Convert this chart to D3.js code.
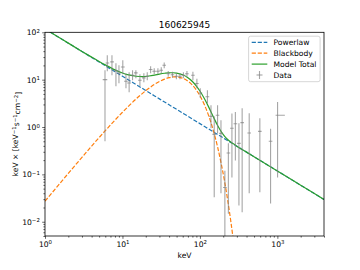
<!DOCTYPE html>
<html><head><meta charset="utf-8">
<script src="https://cdn.jsdelivr.net/npm/d3@7/dist/d3.min.js"></script>
<style>body{margin:0;background:#fff}svg{display:block}text{font-family:"DejaVu Sans",sans-serif;fill:#000}</style>
</head><body><svg id="c" width="360" height="270"></svg>
<script>
// ---------- data ----------
const chartTitle = "160625945";
const xLabel = "keV";
const seriesNames = ["Powerlaw", "Blackbody", "Model Total", "Data"];

// data points: energy, value, lower/upper y limits, lower/upper energy limits
const dataE    = [5.95,6.37,7.32,8.24,9.01,10.1,11.1,12.2,13.5,14.9,16.8,18.9,20.9,23.1,25.7,28.7,31.7,34.6,39.0,44.2,49.7,55.2,61.2,68.0,81.2,91.4,101,125,139,153,169,187,210,233,259,287,319,351,433,594,817,1006];
const dataV    = [10.0,22.5,23.7,15.3,13.7,18.5,9.25,8.51,12.4,13.9,9.71,10.9,11.8,16.4,15.1,15.1,15.8,20.1,13.3,12.7,11.8,11.8,12.4,13.3,12.4,8.27,5.23,4.35,1.68,0.70,1.77,0.735,0.053,0.282,0.94,1.17,0.452,1.24,0.747,0.81,0.50,1.77];
const dataLo   = [0.50,15.1,12.4,7.25,8.4,13.0,6.58,5.42,9.71,10.7,7.25,8.8,9.71,13.6,13.0,13.0,13.6,17.4,11.5,11.0,10.2,10.2,10.7,11.5,9.71,6.6,4.14,3.17,0.94,0.033,0.735,0.04,0.001,0.0148,0.086,0.197,0.022,0.0158,0.04,0.042,0.0244,0.086];
const dataHi   = [15.8,32.8,32.8,22.2,20.1,25.7,13.6,14.3,15.8,15.8,13.0,13.6,14.3,19.2,17.4,17.4,18.3,23.1,15.3,14.7,13.6,13.6,14.3,15.3,14.7,10.4,6.6,5.97,2.88,1.68,2.88,1.39,0.12,0.452,1.92,2.07,1.2,2.48,1.95,1.53,0.925,3.38];
const dataELo  = [5.56,6.05,6.95,7.8,8.55,9.55,10.5,11.5,12.8,14.1,15.9,17.9,19.8,21.9,24.3,27.2,30.0,32.8,37.0,41.9,47.1,52.3,58.0,64.4,77.0,86.6,95.7,118,132,145,160,177,199,221,245,272,302,333,410,563,774,948];
const dataEHi  = [6.37,6.75,7.75,8.7,9.5,10.7,11.7,12.9,14.3,15.7,17.7,19.9,22.0,24.4,27.1,30.3,33.4,36.5,41.1,46.6,52.4,58.2,64.6,71.7,85.7,96.4,107,132,147,161,178,197,222,246,273,303,336,370,457,626,862,1250];

// model curves
const modelE     = [1,1.5,2,3,4,5,6,8,10,12,15,18,22,26,30,35,40,45,50,60,70,80,90,100,115,130,150,170,190,210,230,250,270,290,300,400,600,1000,2000,4000];
const powerlaw   = [118,78.7,59,39.3,29.5,23.6,19.7,14.75,11.8,9.83,7.87,6.56,5.36,4.54,3.93,3.37,2.95,2.62,2.36,1.97,1.69,1.475,1.31,1.18,1.026,0.908,0.787,0.694,0.621,0.562,0.513,0.472,0.437,0.407,0.393,0.295,0.197,0.118,0.059,0.0295];
const blackbody  = [0.0271,0.060,0.105,0.229,0.396,0.600,0.837,1.397,2.05,2.76,3.91,5.08,6.59,7.97,9.15,10.28,11.03,11.40,11.43,10.70,9.31,7.66,6.03,4.58,2.88,1.72,0.814,0.366,0.157,0.0657,0.0265,0.0105,0.00409,0.00156,null,null,null,null,null,null];
const modelTotal = [118,78.8,59.1,39.5,29.9,24.2,20.5,16.1,13.85,12.6,11.8,11.64,11.95,12.5,13.1,13.65,13.98,14.0,13.8,12.67,11.0,9.14,7.34,5.76,3.9,2.63,1.60,1.06,0.778,0.628,0.540,0.483,0.441,0.409,0.393,0.295,0.197,0.118,0.059,0.0295];

const xMajor = [1,10,100,1000];
const yMajor = [0.01,0.1,1,10,100];
const colors = ["#1f77b4","#ff7f0e","#2ca02c","#808080"];

// ---------- drawing ----------
const svg = d3.select("#c");
const L=45, R=324, T=32.3, B=236;
const x = d3.scaleLog().domain([1,4000]).range([L,R]);
const y = d3.scaleLog().domain([0.005,100]).range([B,T]);

function minors(lo, hi){
  const out=[];
  for(let p=Math.floor(Math.log10(lo)); p<=Math.ceil(Math.log10(hi)); p++){
    for(let m=2;m<=9;m++){const v=m*Math.pow(10,p); if(v>=lo*0.9999 && v<=hi*1.0001) out.push(v);}
  }
  return out;
}
function supLabel(sel){
  sel.each(function(d){
    const t=d3.select(this); const e=Math.round(Math.log10(d));
    t.text(null);
    t.append("tspan").text("10");
    t.append("tspan").attr("dy","-0.45em").attr("font-size","5.4px").text(e<0?"\u2212"+(-e):String(e));
  });
}

svg.append("defs").append("clipPath").attr("id","clip")
  .append("rect").attr("x",L).attr("y",T).attr("width",R-L).attr("height",B-T);

const fs = 7.6;
// x axis
const gx = svg.append("g").attr("transform",`translate(0,${B})`);
gx.append("g").call(d3.axisBottom(x).tickValues(minors(1,4000)).tickSize(1.6).tickFormat(()=>"")).selectAll("text").remove();
const gxM = gx.append("g").call(d3.axisBottom(x).tickValues(xMajor).tickSize(2.8).tickPadding(2.4).tickFormat(d=>d));
gxM.selectAll("text").attr("font-size",fs+"px").attr("font-family","DejaVu Sans").attr("fill","#000").call(supLabel);
// y axis
const gy = svg.append("g").attr("transform",`translate(${L},0)`);
gy.append("g").call(d3.axisLeft(y).tickValues(minors(0.005,100)).tickSize(1.6).tickFormat(()=>"")).selectAll("text").remove();
const gyM = gy.append("g").call(d3.axisLeft(y).tickValues(yMajor).tickSize(2.8).tickPadding(2.4).tickFormat(d=>d));
gyM.selectAll("text").attr("font-size",fs+"px").attr("font-family","DejaVu Sans").attr("fill","#000").call(supLabel);
svg.selectAll(".domain").remove();
svg.selectAll(".tick line").attr("stroke","#000").attr("stroke-width",0.6);

const plot = svg.append("g").attr("clip-path","url(#clip)");
const line = d3.line().defined(d=>d[1]!=null).x(d=>x(d[0])).y(d=>y(d[1])).curve(d3.curveMonotoneX);
const mk = arr => modelE.map((e,i)=>[e,arr[i]]);

plot.append("path").attr("d",line(mk(powerlaw))).attr("fill","none")
  .attr("stroke",colors[0]).attr("stroke-width",1.2).attr("stroke-dasharray","4.2,1.8");
plot.append("path").attr("d",line(mk(blackbody))).attr("fill","none")
  .attr("stroke",colors[1]).attr("stroke-width",1.2).attr("stroke-dasharray","4.2,1.8");
plot.append("path").attr("d",line(mk(modelTotal))).attr("fill","none")
  .attr("stroke",colors[2]).attr("stroke-width",1.2);

// data error crosses
const gd = plot.append("g").attr("stroke",colors[3]).attr("stroke-opacity",0.7).attr("stroke-width",1.1);
dataE.forEach((e,i)=>{
  gd.append("line").attr("x1",x(e)).attr("x2",x(e)).attr("y1",y(dataHi[i])).attr("y2",y(dataLo[i]));
  gd.append("line").attr("x1",x(dataELo[i])).attr("x2",x(dataEHi[i])).attr("y1",y(dataV[i])).attr("y2",y(dataV[i]));
});

// frame
svg.append("rect").attr("x",L).attr("y",T).attr("width",R-L).attr("height",B-T)
  .attr("fill","none").attr("stroke","#000").attr("stroke-width",0.8);

// title & labels
svg.append("text").attr("x",(L+R)/2).attr("y",27.6).attr("text-anchor","middle").attr("font-size","9px").text(chartTitle);
svg.append("text").attr("x",(L+R)/2).attr("y",258).attr("text-anchor","middle").attr("font-size",fs+"px").text(xLabel);
const yl = svg.append("text").attr("transform",`translate(18,${(T+B)/2}) rotate(-90)`).attr("text-anchor","middle").attr("font-size",fs+"px");
yl.append("tspan").text("keV \u00d7 [keV");
yl.append("tspan").attr("dy","-0.45em").attr("font-size","5.4px").text("\u22121");
yl.append("tspan").attr("dy","0.45em").text("s");
yl.append("tspan").attr("dy","-0.45em").attr("font-size","5.4px").text("\u22121");
yl.append("tspan").attr("dy","0.45em").text("cm");
yl.append("tspan").attr("dy","-0.45em").attr("font-size","5.4px").text("\u22122");
yl.append("tspan").attr("dy","0.45em").text("]");

// legend
const lg = svg.append("g");
lg.append("rect").attr("x",248.6).attr("y",36.2).attr("width",71.5).attr("height",45.5).attr("rx",2)
  .attr("fill","#fff").attr("fill-opacity",0.8).attr("stroke","#ccc").attr("stroke-width",0.8);
const rowY = [42.3,53.2,64.1,75.0];
seriesNames.forEach((name,i)=>{
  const yy=rowY[i];
  if(i<3){
    const l=lg.append("line").attr("x1",251.7).attr("x2",267.3).attr("y1",yy).attr("y2",yy)
      .attr("stroke",colors[i]).attr("stroke-width",1.2);
    if(i<2) l.attr("stroke-dasharray","4.2,1.8");
  } else {
    lg.append("line").attr("x1",256.5).attr("x2",262.5).attr("y1",yy).attr("y2",yy).attr("stroke",colors[3]).attr("stroke-opacity",0.7).attr("stroke-width",1.1);
    lg.append("line").attr("x1",259.5).attr("x2",259.5).attr("y1",yy-4).attr("y2",yy+4).attr("stroke",colors[3]).attr("stroke-opacity",0.7).attr("stroke-width",1.1);
  }
  lg.append("text").attr("x",273.5).attr("y",yy).attr("dy","0.35em").attr("font-size",fs+"px").text(name);
});
</script></body></html>
